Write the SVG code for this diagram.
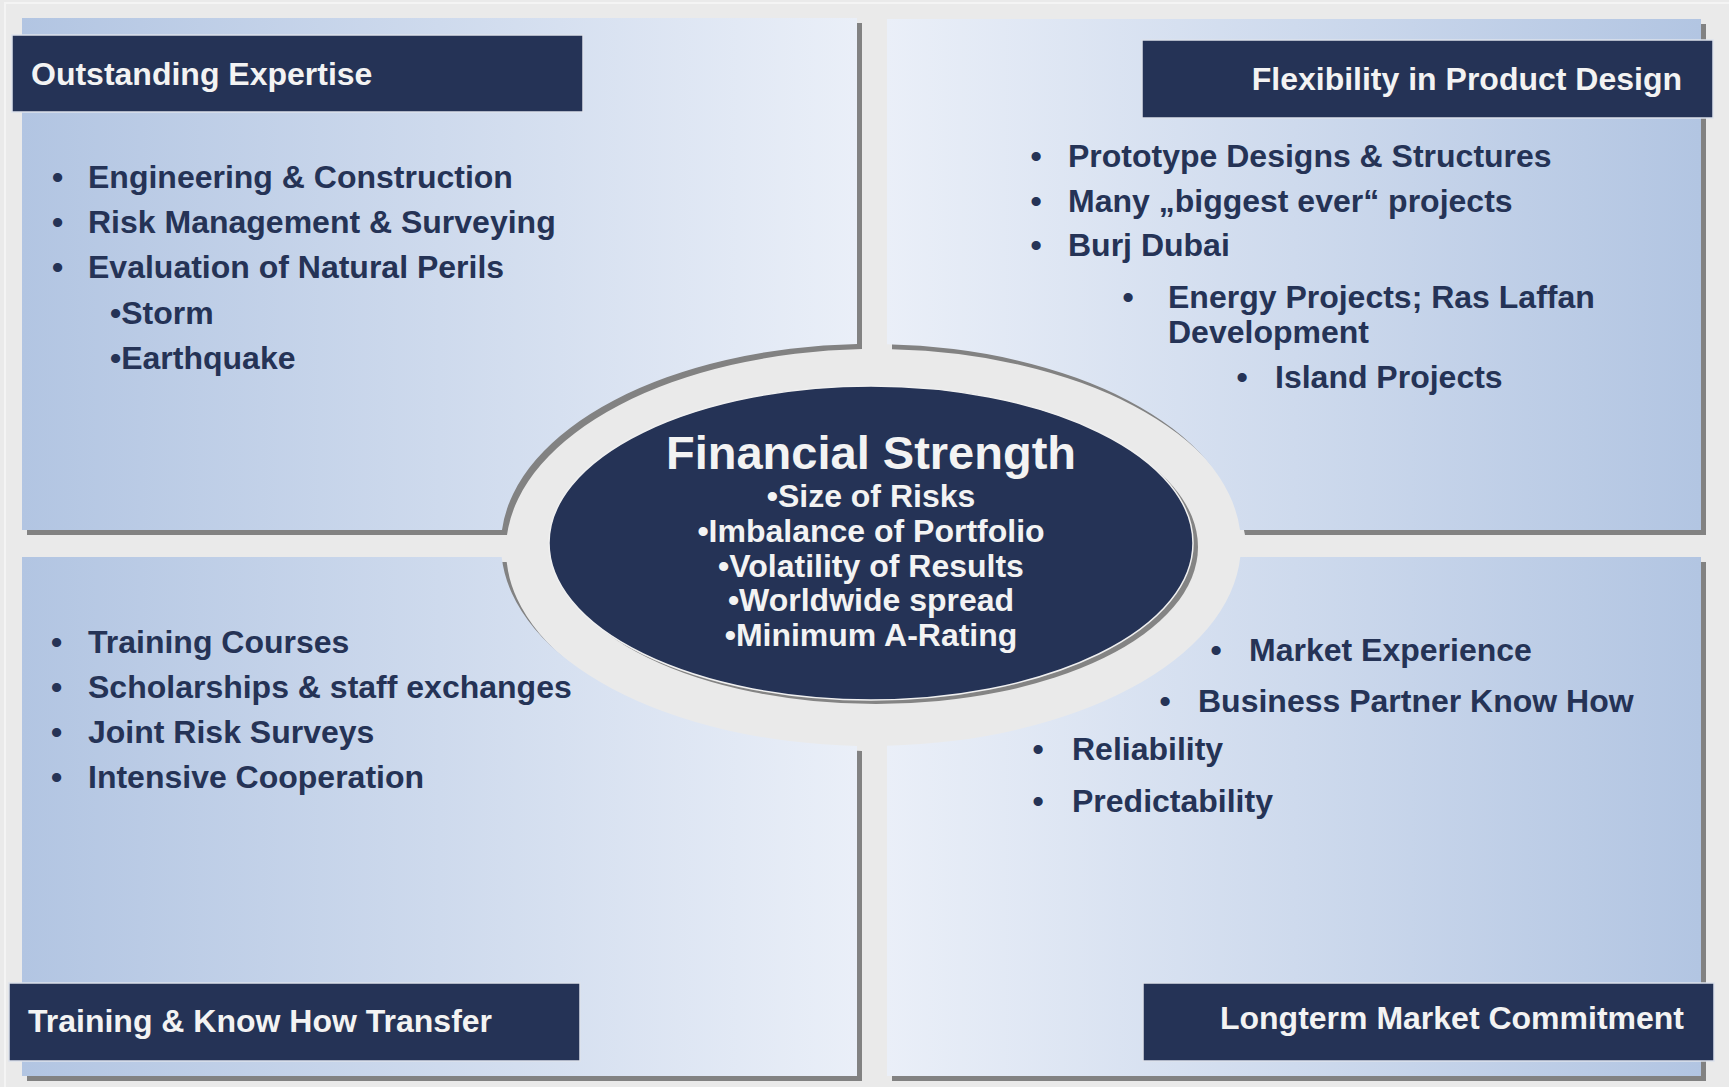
<svg xmlns="http://www.w3.org/2000/svg" width="1729" height="1087" viewBox="0 0 1729 1087">
<defs>
<linearGradient id="gL" x1="0" y1="0" x2="1" y2="0"><stop offset="0" stop-color="#b2c5e2"/><stop offset="1" stop-color="#eaeff8"/></linearGradient>
<linearGradient id="gR" x1="0" y1="0" x2="1" y2="0"><stop offset="0" stop-color="#eaeff8"/><stop offset="1" stop-color="#b2c5e2"/></linearGradient>
<style>
.sh{fill:#828282}
.hd{fill:#253356;stroke:#dde2ec;stroke-width:1.5}
.ht{font-family:"Liberation Sans",Arial,sans-serif;font-weight:bold;font-size:32px;fill:#f3f3f3}
.bt{font-family:"Liberation Sans",Arial,sans-serif;font-weight:bold;font-size:32px;fill:#253356}
.bu{font-family:"Liberation Sans",Arial,sans-serif;font-weight:bold;font-size:32px;fill:#253356;text-anchor:middle}
.ct{font-family:"Liberation Sans",Arial,sans-serif;font-weight:bold;font-size:32px;fill:#f3f3f3;text-anchor:middle}
.tt{font-family:"Liberation Sans",Arial,sans-serif;font-weight:bold;font-size:47px;fill:#f3f3f3;text-anchor:middle}
</style>
</defs>
<rect x="0" y="0" width="1729" height="1087" fill="#eaeaea"/>
<path d="M5,1087 V3 H1729" fill="none" stroke="#f4f4f4" stroke-width="2"/>

<g id="panel-outstanding-expertise">
<path class="sh" transform="translate(5,5)" d="M22,18 H857 V344.1 A370,201 0 0 0 502,530 H22 Z"/>
<path fill="url(#gL)" d="M22,18 H857 V344.1 A370,201 0 0 0 502,530 H22 Z"/>
<rect class="hd" x="12" y="35" width="571" height="77"/>
<text class="ht" x="31" y="85">Outstanding Expertise</text>
<text class="bu" x="57.5" y="188">•</text><text class="bt" x="88" y="188">Engineering &amp; Construction</text>
<text class="bu" x="57.5" y="233">•</text><text class="bt" x="88" y="233">Risk Management &amp; Surveying</text>
<text class="bu" x="57.5" y="278">•</text><text class="bt" x="88" y="278">Evaluation of Natural Perils</text>
<text class="bt" x="110" y="324">•Storm</text>
<text class="bt" x="110" y="369">•Earthquake</text>
</g>

<g id="panel-flexibility">
<path class="sh" transform="translate(5,5)" d="M887,19 H1701 V530 H1240 A370,201 0 0 0 887,344.2 Z"/>
<path fill="url(#gR)" d="M887,19 H1701 V530 H1240 A370,201 0 0 0 887,344.2 Z"/>
<rect class="hd" x="1142" y="40" width="571" height="78"/>
<text class="ht" x="1682" y="90" text-anchor="end">Flexibility in Product Design</text>
<text class="bu" x="1036" y="167">•</text><text class="bt" x="1068" y="167">Prototype Designs &amp; Structures</text>
<text class="bu" x="1036" y="212">•</text><text class="bt" x="1068" y="212">Many „biggest ever“ projects</text>
<text class="bu" x="1036" y="256">•</text><text class="bt" x="1068" y="256">Burj Dubai</text>
<text class="bu" x="1128" y="308">•</text><text class="bt" x="1168" y="308">Energy Projects; Ras Laffan</text>
<text class="bt" x="1168" y="343">Development</text>
<text class="bu" x="1242" y="388">•</text><text class="bt" x="1275" y="388">Island Projects</text>
</g>

<g id="panel-training">
<path class="sh" transform="translate(5,5)" d="M22,557 H501.7 A370,201 0 0 0 857,745.9 V1076 H22 Z"/>
<path fill="url(#gL)" d="M22,557 H501.7 A370,201 0 0 0 857,745.9 V1076 H22 Z"/>
<rect class="hd" x="9" y="983" width="571" height="78"/>
<text class="ht" x="28" y="1032">Training &amp; Know How Transfer</text>
<text class="bu" x="56.5" y="653">•</text><text class="bt" x="88" y="653">Training Courses</text>
<text class="bu" x="56.5" y="698">•</text><text class="bt" x="88" y="698">Scholarships &amp; staff exchanges</text>
<text class="bu" x="56.5" y="743">•</text><text class="bt" x="88" y="743">Joint Risk Surveys</text>
<text class="bu" x="56.5" y="788">•</text><text class="bt" x="88" y="788">Intensive Cooperation</text>
</g>

<g id="panel-longterm">
<path class="sh" transform="translate(5,5)" d="M887,745.8 A370,201 0 0 0 1240.3,557 H1701 V1076 H887 Z"/>
<path fill="url(#gR)" d="M887,745.8 A370,201 0 0 0 1240.3,557 H1701 V1076 H887 Z"/>
<rect class="hd" x="1143" y="983" width="571" height="78"/>
<text class="ht" x="1684" y="1029" text-anchor="end">Longterm Market Commitment</text>
<text class="bu" x="1216" y="661">•</text><text class="bt" x="1249" y="661">Market Experience</text>
<text class="bu" x="1165" y="712">•</text><text class="bt" x="1198" y="712">Business Partner Know How</text>
<text class="bu" x="1038" y="760">•</text><text class="bt" x="1072" y="760">Reliability</text>
<text class="bu" x="1038" y="812">•</text><text class="bt" x="1072" y="812">Predictability</text>
</g>

<g id="connectors"></g>

<g id="financial-strength">
<ellipse cx="876" cy="547" rx="322" ry="157" fill="#848484"/>
<ellipse cx="871" cy="543" rx="322" ry="157" fill="#253356" stroke="#f0f0f0" stroke-width="1.5"/>
<text class="tt" x="871" y="469">Financial Strength</text>
<text class="ct" x="871" y="507">•Size of Risks</text>
<text class="ct" x="871" y="542">•Imbalance of Portfolio</text>
<text class="ct" x="871" y="577">•Volatility of Results</text>
<text class="ct" x="871" y="611">•Worldwide spread</text>
<text class="ct" x="871" y="646">•Minimum A-Rating</text>
</g>
</svg>
